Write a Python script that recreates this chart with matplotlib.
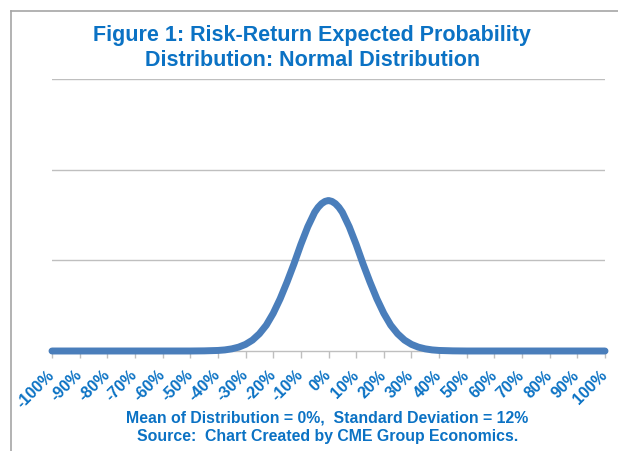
import matplotlib
matplotlib.use('Agg')
from matplotlib import pyplot as plt
from matplotlib.lines import Line2D

# returns (%) and density
returns = [-100, -90, -80, -70, -60, -50, -45, -40, -37.5, -35, -32.5, -30,
           -27.5, -25, -22.5, -20, -17.5, -15, -12.5, -10, -7.5, -5, -3.75, -2.5,
           -1.25, 0, 1.25, 2.5, 3.75, 5, 7.5, 10, 12.5, 15, 17.5, 20, 22.5, 25,
           27.5, 30, 32.5, 35, 37.5, 40, 45, 50, 60, 70, 80, 90, 100]
density = [0, 0, 0, 0, 0, 0, 0.003, 0.012, 0.024, 0.047, 0.085, 0.146,
           0.24, 0.38, 0.57, 0.83, 1.15, 1.52, 1.92, 2.35, 2.74, 3.06, 3.17, 3.25,
           3.30, 3.32, 3.30, 3.25, 3.17, 3.06, 2.74, 2.35, 1.92, 1.52, 1.15, 0.83,
           0.57, 0.38, 0.24, 0.146, 0.085, 0.047, 0.024, 0.012, 0.003, 0, 0, 0,
           0, 0, 0]
tick_pos = list(range(-100, 101, 10))
tick_labels = ['%d%%' % t for t in tick_pos]
grid_levels = [2, 4, 6]

blue_text = '#0B72C4'
line_blue = '#4A7EBB'
grey = '#BFBFBF'

plt.rcParams['font.family'] = ['Liberation Sans', 'DejaVu Sans']

fig = plt.figure(figsize=(6.18, 4.52), dpi=100)
ax = fig.add_axes([52/618, 1-352/452, 553/618, 272/452])

for g in grid_levels:
    ax.axhline(g, color=grey, lw=1.0, zorder=1)
ax.plot(returns, density, color=line_blue, lw=5, solid_capstyle='round',
        solid_joinstyle='round', zorder=3, clip_on=False)

ax.set_xlim(-100, 100)
ax.set_ylim(0, 6)
for s in ['top', 'right', 'left']:
    ax.spines[s].set_visible(False)
ax.spines['bottom'].set_color(grey)
ax.spines['bottom'].set_linewidth(1.0)
ax.set_yticks([])
ax.set_xticks(tick_pos)
ax.set_xticklabels(tick_labels, rotation=45, ha='right', va='center',
                   rotation_mode='anchor', fontsize=11.5, fontweight='bold',
                   color=blue_text)
ax.tick_params(axis='x', direction='out', length=5, width=1, color=grey, pad=10)

fig.text(0.505, 0.922, 'Figure 1: Risk-Return Expected Probability',
         ha='center', va='center', fontsize=15.5, fontweight='bold', color=blue_text)
fig.text(0.505, 0.867, 'Distribution: Normal Distribution',
         ha='center', va='center', fontsize=15.5, fontweight='bold', color=blue_text)
fig.text(0.53, 0.075, 'Mean of Distribution = 0%,  Standard Deviation = 12%',
         ha='center', va='center', fontsize=11.4, fontweight='bold', color=blue_text)
fig.text(0.53, 0.035, 'Source:  Chart Created by CME Group Economics.',
         ha='center', va='center', fontsize=11.4, fontweight='bold', color=blue_text)

# chart border (left and top visible)
fig.add_artist(Line2D([11/618, 11/618], [0, 1-12/452], color='#A6A6A6', lw=1.2))
fig.add_artist(Line2D([11/618, 1], [1-12/452, 1-12/452], color='#A6A6A6', lw=1.2))

fig.savefig('out.png', dpi=100)
